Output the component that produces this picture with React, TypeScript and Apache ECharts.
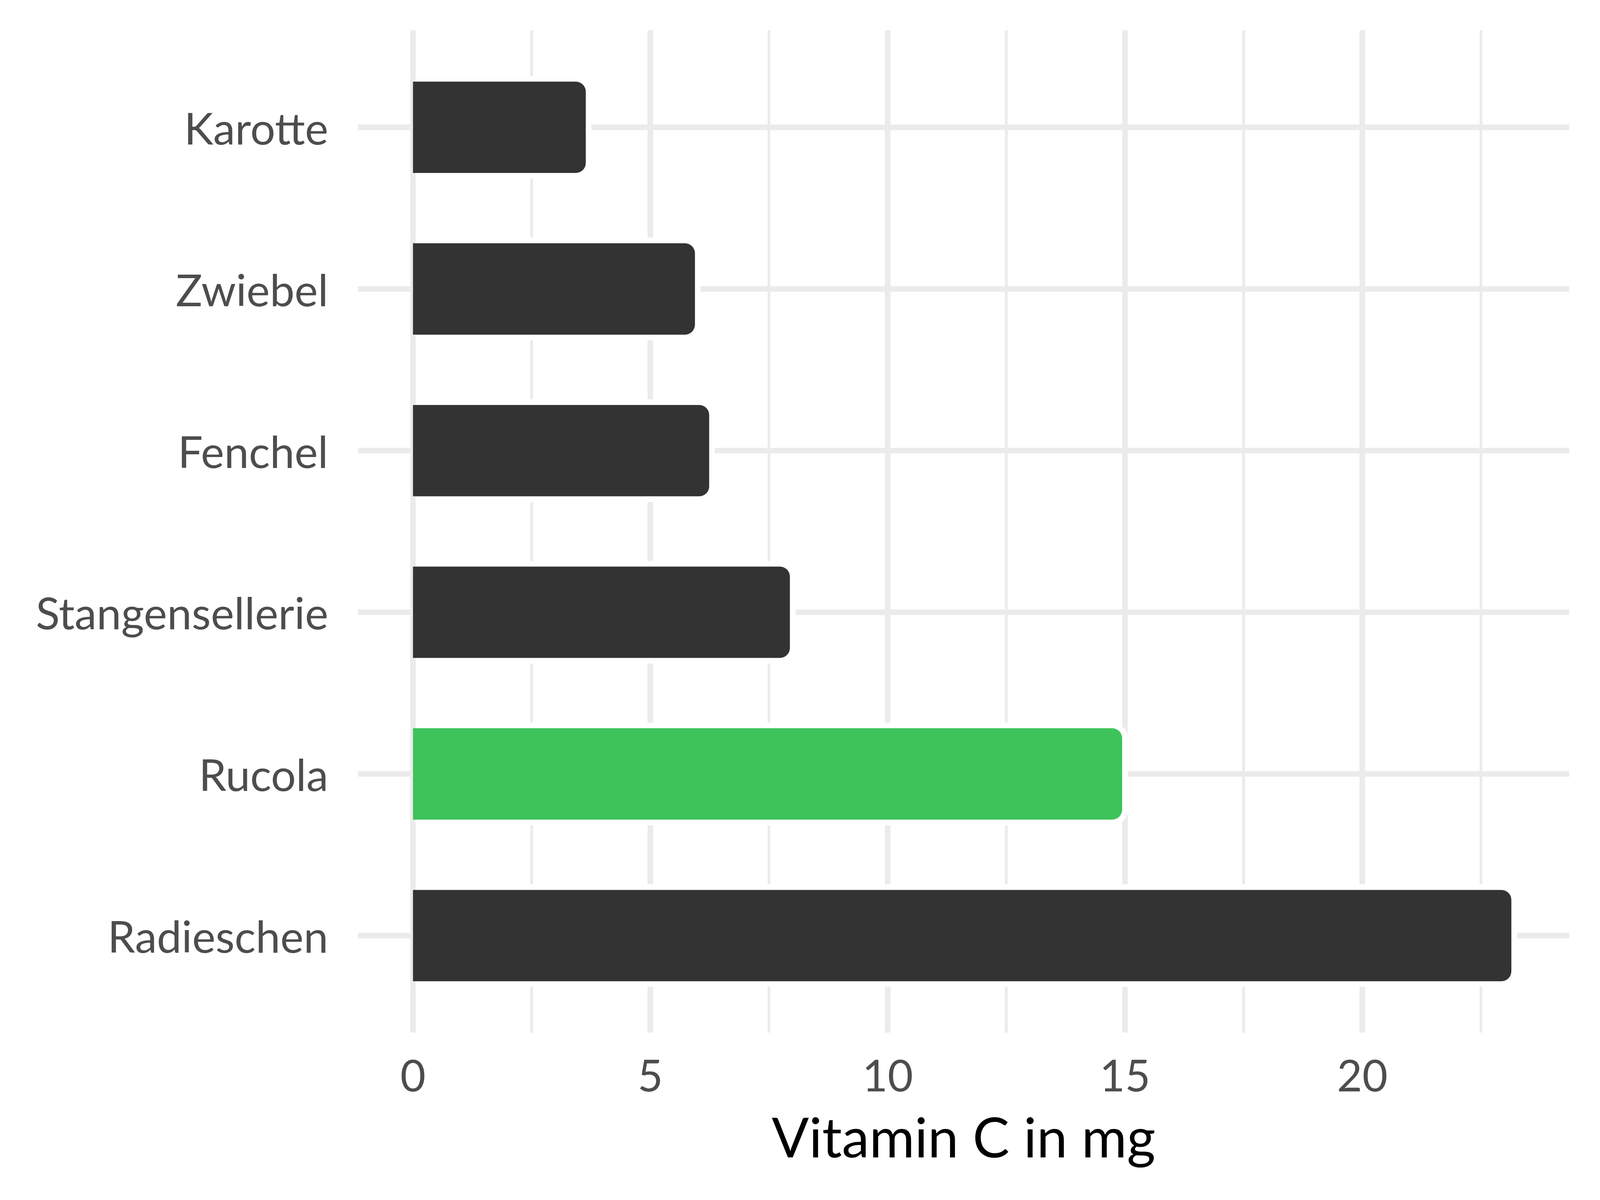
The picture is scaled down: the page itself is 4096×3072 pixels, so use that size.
import React, { useEffect, useRef } from "react";
import * as echarts from "echarts";

// ---- data ----
const categories = ["Karotte", "Zwiebel", "Fenchel", "Stangensellerie", "Rucola", "Radieschen"];
const vitaminC = [3.7, 6.0, 6.3, 8.0, 15.0, 23.2];
const highlighted = "Rucola";
const xMajorTicks = [0, 5, 10, 15, 20];
const xMinorTicks = [2.5, 7.5, 12.5, 17.5, 22.5];
const xTitle = "Vitamin C in mg";

// ---- layout / style ----
const W = 4096;
const H = 3072;
const X_MIN = -1.16;
const X_MAX = 24.36;
const Y_MIN = -0.6;
const Y_MAX = 5.6;
const PANEL_LEFT = 916.3;
const PANEL_RIGHT = 4017.3;
const PANEL_TOP = 77.6;
const PANEL_BOTTOM = 2643.4;
const UNIT_X = (PANEL_RIGHT - PANEL_LEFT) / (X_MAX - X_MIN);
const BAND = (PANEL_BOTTOM - PANEL_TOP) / (Y_MAX - Y_MIN);
const FONT = "Lato, 'Open Sans', sans-serif";
const GRID_COLOR = "#EBEBEB";
const TEXT_COLOR = "#4D4D4D";
const BAR_COLOR = "#333333";
const HIGHLIGHT_COLOR = "#3EC25A";
const MAJOR_W = 14.2;
const MINOR_W = 7.1;
const BAR_FRACTION = 0.6;
const OUTLINE = 7.25; // half of the white outline
const DARK_R = 25.6;

export default function App() {
  const ref = useRef<HTMLDivElement>(null);

  useEffect(() => {
    if (!ref.current) return;
    const chart = echarts.init(ref.current, null, { renderer: "svg" });

    const zeroPx = PANEL_LEFT + (0 - X_MIN) * UNIT_X;
    const lastTick = xMajorTicks[xMajorTicks.length - 1];
    const lastPx = PANEL_LEFT + (lastTick - X_MIN) * UNIT_X;
    const barTop = PANEL_TOP + (0 - Y_MIN) * BAND - BAND / 2;
    const barBottom = barTop + categories.length * BAND;

    const vLines = [
      ...xMajorTicks.map((v) => [v, 1]),
      ...xMinorTicks.map((v) => [v, 0]),
    ];
    const hLines = categories.map((_, i) => [i]);
    const barData = vitaminC.map((v, i) => [v, i]);

    const option: any = {
      animation: false,
      backgroundColor: "#FFFFFF",
      grid: [
        { left: PANEL_LEFT, right: W - PANEL_RIGHT, top: PANEL_TOP, bottom: H - PANEL_BOTTOM },
        { left: PANEL_LEFT, right: W - PANEL_RIGHT, top: barTop, bottom: H - barBottom },
        { left: zeroPx, right: W - lastPx, top: PANEL_TOP, bottom: H - PANEL_BOTTOM },
      ],
      xAxis: [
        { type: "value", gridIndex: 0, min: X_MIN, max: X_MAX, show: false },
        { type: "value", gridIndex: 1, min: X_MIN, max: X_MAX, show: false },
        {
          type: "value",
          gridIndex: 2,
          min: 0,
          max: lastTick,
          interval: 5,
          axisLine: { show: false },
          axisTick: { show: false },
          splitLine: { show: false },
          axisLabel: {
            show: true,
            margin: 51,
            color: TEXT_COLOR,
            fontFamily: FONT,
            fontSize: 112,
          },
        },
      ],
      yAxis: [
        { type: "value", gridIndex: 0, min: Y_MIN, max: Y_MAX, inverse: true, show: false },
        {
          type: "category",
          gridIndex: 1,
          data: categories,
          inverse: true,
          axisLine: { show: false },
          axisTick: { show: false },
          splitLine: { show: false },
          axisLabel: {
            margin: 76,
            color: TEXT_COLOR,
            fontFamily: FONT,
            fontSize: 113,
          },
        },
        { type: "value", gridIndex: 2, show: false },
      ],
      series: [
        {
          type: "custom",
          name: "vgrid",
          xAxisIndex: 0,
          yAxisIndex: 0,
          z: 1,
          silent: true,
          clip: false,
          data: vLines,
          renderItem: (params: any, api: any) => {
            const v = api.value(0);
            const major = api.value(1) === 1;
            const p1 = api.coord([v, Y_MIN]);
            const p2 = api.coord([v, Y_MAX]);
            return {
              type: "line",
              shape: { x1: p1[0], y1: p1[1], x2: p2[0], y2: p2[1] },
              style: { stroke: GRID_COLOR, lineWidth: major ? MAJOR_W : MINOR_W, lineCap: "butt" },
            };
          },
        },
        {
          type: "custom",
          name: "hgrid",
          xAxisIndex: 0,
          yAxisIndex: 0,
          z: 1,
          silent: true,
          clip: false,
          data: hLines,
          renderItem: (params: any, api: any) => {
            const i = api.value(0);
            const p1 = api.coord([X_MIN, i]);
            const p2 = api.coord([X_MAX, i]);
            return {
              type: "line",
              shape: { x1: p1[0], y1: p1[1], x2: p2[0], y2: p2[1] },
              style: { stroke: GRID_COLOR, lineWidth: MAJOR_W, lineCap: "butt" },
            };
          },
        },
        {
          type: "custom",
          name: xTitle,
          xAxisIndex: 1,
          yAxisIndex: 1,
          z: 3,
          clip: false,
          encode: { x: 0, y: 1 },
          data: barData,
          renderItem: (params: any, api: any) => {
            const v = api.value(0);
            const i = api.value(1);
            const start = api.coord([0, i]);
            const end = api.coord([v, i]);
            const band = api.size([0, 1])[1];
            const h = band * BAR_FRACTION;
            const cy = start[1];
            const fill = categories[i] === highlighted ? HIGHLIGHT_COLOR : BAR_COLOR;
            const whiteX = start[0] + MAJOR_W / 2;
            return {
              type: "group",
              children: [
                {
                  type: "rect",
                  shape: {
                    x: whiteX,
                    y: cy - h / 2 - OUTLINE,
                    width: end[0] + OUTLINE - whiteX,
                    height: h + 2 * OUTLINE,
                    r: [0, DARK_R + 2 * OUTLINE, DARK_R + 2 * OUTLINE, 0],
                  },
                  style: { fill: "#FFFFFF" },
                },
                {
                  type: "rect",
                  shape: {
                    x: start[0],
                    y: cy - h / 2 + OUTLINE,
                    width: end[0] - OUTLINE - start[0],
                    height: h - 2 * OUTLINE,
                    r: [0, DARK_R, DARK_R, 0],
                  },
                  style: { fill },
                },
              ],
            };
          },
        },
      ],
      graphic: [
        {
          type: "text",
          x: (PANEL_LEFT + PANEL_RIGHT) / 2,
          y: 2908,
          style: {
            text: xTitle,
            fill: "#000000",
            fontFamily: FONT,
            fontSize: 141,
            textAlign: "center",
            textVerticalAlign: "middle",
          },
        },
      ],
    };

    chart.setOption(option);
    return () => chart.dispose();
  }, []);

  return (
    <div
      ref={ref}
      style={{ position: "absolute", left: 0, top: 0, width: W, height: H, background: "#fff" }}
    />
  );
}
